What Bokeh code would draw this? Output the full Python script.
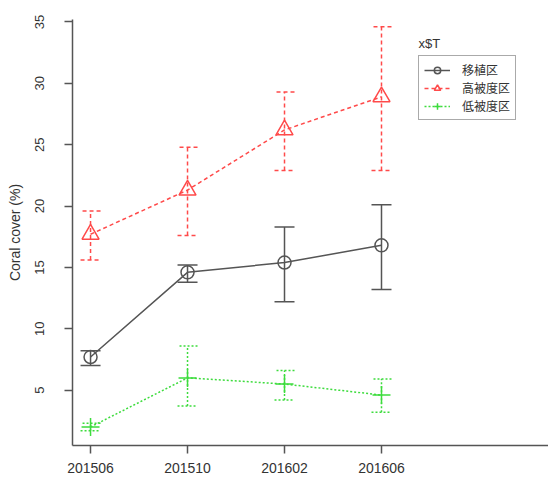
from bokeh.plotting import figure
from bokeh.models import (Range1d, FixedTicker, ColumnDataSource, Whisker, TeeHead,
                          Legend, LegendItem, Label)
from bokeh.embed import file_html
from bokeh.resources import INLINE

periods = ["201506", "201510", "201602", "201606"]
xpos = [i + 1 for i in range(len(periods))]

names = ["移植区", "高被度区", "低被度区"]
means_transplant = [7.7, 14.6, 15.4, 16.8]
lower_transplant = [7.0, 13.8, 12.2, 13.2]
upper_transplant = [8.2, 15.2, 18.3, 20.1]

means_high = [17.7, 21.3, 26.2, 28.9]
lower_high = [15.6, 17.6, 22.9, 22.9]
upper_high = [19.6, 24.8, 29.3, 34.6]

means_low = [2.0, 6.0, 5.5, 4.6]
lower_low = [1.7, 3.7, 4.2, 3.2]
upper_low = [2.3, 8.6, 6.6, 5.9]

y_ticks = [5, 10, 15, 20, 25, 30, 35]

FONT = "Liberation Sans"
CJK = "Noto Sans CJK JP"

p = figure(width=548, height=480, output_backend="svg", toolbar_location=None,
           x_range=Range1d(0.814, 5.722), y_range=Range1d(0.49, 35.2),
           min_border_left=72, min_border_top=19, min_border_right=0, min_border_bottom=35)
p.outline_line_color = None
p.xgrid.visible = False
p.ygrid.visible = False
p.background_fill_color = "white"

# axes
p.xaxis.ticker = FixedTicker(ticks=xpos)
p.xaxis.major_label_overrides = {x: lab for x, lab in zip(xpos, periods)}
p.yaxis.ticker = FixedTicker(ticks=y_ticks)
for ax in (p.xaxis, p.yaxis):
    ax.axis_line_color = "#555555"
    ax.axis_line_width = 1.5
    ax.major_tick_line_color = "#555555"
    ax.major_tick_line_width = 1.5
    ax.major_tick_out = 8
    ax.major_tick_in = 0
    ax.minor_tick_line_color = None
    ax.major_label_text_font = FONT
    ax.major_label_text_color = "#333333"
p.xaxis.major_label_text_font_size = "14px"
p.xaxis.major_label_standoff = 9
p.yaxis.major_label_text_font_size = "13px"
p.yaxis.major_label_orientation = "vertical"
p.yaxis.major_label_standoff = 20
p.yaxis.axis_label = "Coral cover (%)"
p.yaxis.axis_label_text_font = FONT
p.yaxis.axis_label_text_font_style = "normal"
p.yaxis.axis_label_text_font_size = "14px"
p.yaxis.axis_label_text_color = "#333333"
p.yaxis.axis_label_standoff = 10

series = [
    dict(name=names[0], mean=means_transplant, lo=lower_transplant, hi=upper_transplant,
         color="#555555", dash="solid", marker="circle", size=13),
    dict(name=names[1], mean=means_high, lo=lower_high, hi=upper_high,
         color="#ff4a4a", dash="4 3", marker="triangle", size=17),
    dict(name=names[2], mean=means_low, lo=lower_low, hi=upper_low,
         color="#3ddc3d", dash="2 2", marker="cross", size=18),
]

items = []
for s in series:
    src = ColumnDataSource(dict(x=xpos, y=s["mean"], lo=s["lo"], hi=s["hi"]))
    w = Whisker(source=src, base="x", upper="hi", lower="lo",
                line_color=s["color"], line_width=1.5, line_dash=s["dash"],
                upper_head=TeeHead(size=20, line_color=s["color"], line_width=1.5, line_dash=s["dash"]),
                lower_head=TeeHead(size=20, line_color=s["color"], line_width=1.5, line_dash=s["dash"]))
    p.add_layout(w)
    ln = p.line("x", "y", source=src, line_color=s["color"], line_width=1.5, line_dash=s["dash"])
    sc = p.scatter("x", "y", source=src, marker=s["marker"], size=s["size"],
                   fill_color=None, line_color=s["color"], line_width=1.5)
    items.append(LegendItem(label=s["name"], renderers=[ln, sc]))

legend = Legend(items=items, location=(346, 325), orientation="vertical",
                border_line_color="#555555", border_line_width=1.5,
                background_fill_color="white", background_fill_alpha=1,
                padding=5, spacing=1, margin=0,
                glyph_width=26, glyph_height=16, label_height=16,
                label_standoff=12, label_text_font=CJK,
                label_text_font_size="12px", label_text_color="#333333")
p.add_layout(legend)

p.add_layout(Label(x=346, y=395, x_units="screen", y_units="screen", text="x$T",
                   text_font=FONT, text_font_size="13px", text_color="#333333"))

open("out.html", "w").write(file_html(p, INLINE))
